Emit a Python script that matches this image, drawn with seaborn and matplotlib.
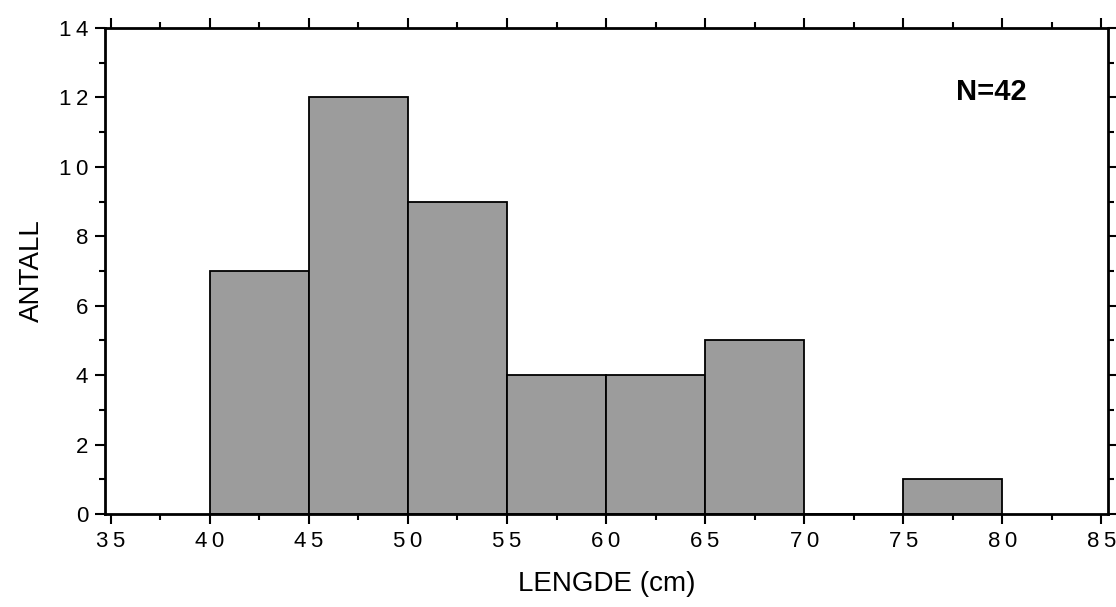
import numpy as np
import seaborn as sns
import matplotlib.pyplot as plt
from matplotlib.ticker import MultipleLocator

# bin start (cm) and count per 5 cm bin
bin_starts = [40, 45, 50, 55, 60, 65, 70, 75]
counts = [7, 12, 9, 4, 4, 5, 0, 1]
bin_edges = [40, 45, 50, 55, 60, 65, 70, 75, 80]
x_ticks = [35, 40, 45, 50, 55, 60, 65, 70, 75, 80, 85]
y_ticks = [0, 2, 4, 6, 8, 10, 12, 14]

sns.set_theme(style='ticks')
plt.rcParams['font.family'] = ['Liberation Sans', 'DejaVu Sans']
plt.rcParams['text.color'] = 'black'
plt.rcParams['axes.labelcolor'] = 'black'
plt.rcParams['xtick.color'] = 'black'
plt.rcParams['ytick.color'] = 'black'

fig = plt.figure(figsize=(11.16, 6.07), dpi=100)
ax = fig.add_axes([0.094, 0.153, 0.899, 0.801])

sns.histplot(x=bin_starts, weights=counts, bins=bin_edges, ax=ax,
             color='#9c9c9c', edgecolor='black', linewidth=1.3, alpha=1)

# slightly spaced digits like the original typewriter-ish labels
def spaced(v):
    return '\u2009'.join(str(v))

ax.set_xlim(34.7, 85.35)
ax.set_ylim(0, 14)
ax.set_xticks(x_ticks)
ax.set_xticklabels([spaced(t) for t in x_ticks])
ax.set_yticks(y_ticks)
ax.set_yticklabels([spaced(t) for t in y_ticks])
ax.xaxis.set_minor_locator(MultipleLocator(2.5))
ax.yaxis.set_minor_locator(MultipleLocator(1))
ax.tick_params(which='both', direction='out', top=True, right=True,
               labeltop=False, labelright=False, width=1.5, color='black')
ax.tick_params(which='major', length=7, labelsize=16, pad=5)
ax.tick_params(which='minor', length=4)
for s in ax.spines.values():
    s.set_linewidth(2)
    s.set_color('black')

ax.set_xlabel('LENGDE (cm)', fontsize=20, labelpad=14)
ax.set_ylabel('ANTALL', fontsize=20, labelpad=10)
ax.text(0.884, 0.868, 'N=42', transform=ax.transAxes, fontsize=21,
        fontweight='bold', ha='center', va='center')

plt.savefig('out.png', dpi=100)
